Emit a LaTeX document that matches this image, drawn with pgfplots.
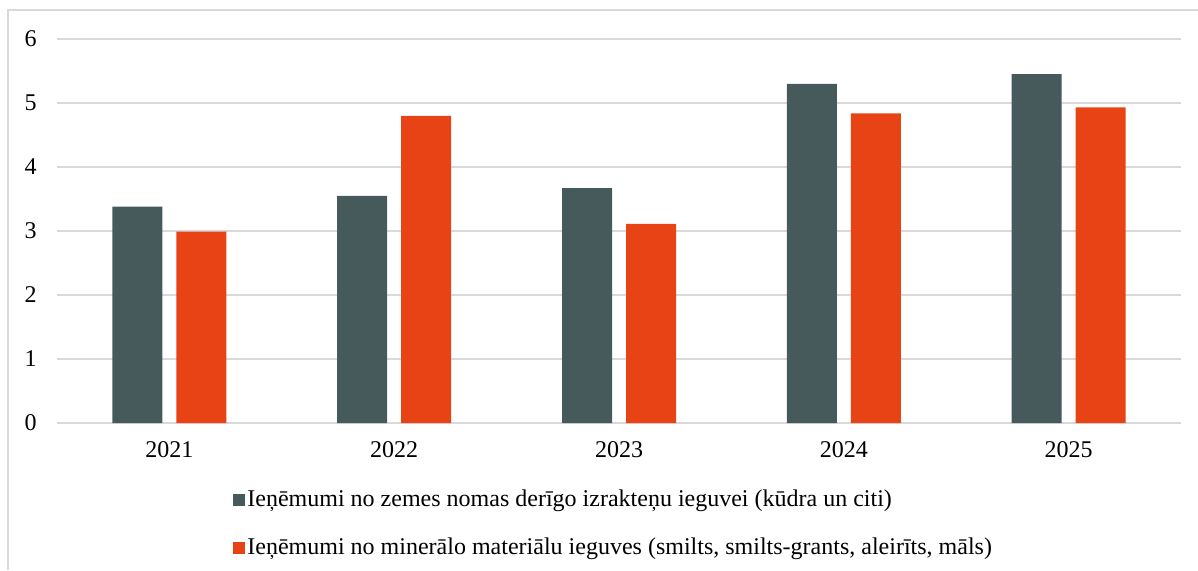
\documentclass[border=0pt]{standalone}
\usepackage{pgfplots}
\pgfplotsset{compat=1.18}
\usepackage{fontspec}
\setmainfont{Liberation Serif}
\definecolor{darkc}{HTML}{465A5C}
\definecolor{orangec}{HTML}{E84314}
\definecolor{gridc}{HTML}{D9D9D9}
\begin{document}
\fontsize{12}{14}\selectfont
\begin{tikzpicture}[x=1pt,y=1pt]
\useasboundingbox (0,0) rectangle (599,285);
\draw[gridc, line width=0.7pt] (4,0) -- (4,280) -- (599,280);
\begin{axis}[
  at={(28.5pt,73.5pt)}, anchor=south west,
  scale only axis, width=562pt, height=192pt,
  xmin=-0.5, xmax=4.5, ymin=0, ymax=6,
  axis line style={draw=none},
  major tick length=0pt,
  ymajorgrids, grid style={color=gridc, line width=0.8pt},
  xtick={0,1,2,3,4}, xticklabels={2021,2022,2023,2024,2025},
  ytick={0,1,2,3,4,5,6},
  tick label style={font=\fontsize{12}{14}\selectfont},
  /pgf/number format/assume math mode=true,
  yticklabel style={xshift=-6pt},
  xticklabel style={yshift=-5pt},
  legend cell align=left,
  legend style={at={(0.1566,0)}, anchor=north west, yshift=-32pt, draw=none, fill=none,
    font=\fontsize{12}{14}\selectfont, row sep=12pt, inner sep=0pt,
    nodes={inner sep=1pt}},
  legend image code/.code={\fill[#1] (0pt,-3pt) rectangle (6pt,3pt);},
]
\addplot[ybar, bar width=25pt, bar shift=-16pt, fill=darkc, draw=none] coordinates {(0,3.38) (1,3.55) (2,3.67) (3,5.30) (4,5.45)};
\addlegendentry{Ieņēmumi no zemes nomas derīgo izrakteņu ieguvei (kūdra un citi)}
\addplot[ybar, bar width=25pt, bar shift=16pt, fill=orangec, draw=none] coordinates {(0,2.99) (1,4.80) (2,3.11) (3,4.84) (4,4.93)};
\addlegendentry{Ieņēmumi no minerālo materiālu ieguves (smilts, smilts-grants, aleirīts, māls)}
\end{axis}
\end{tikzpicture}
\end{document}
